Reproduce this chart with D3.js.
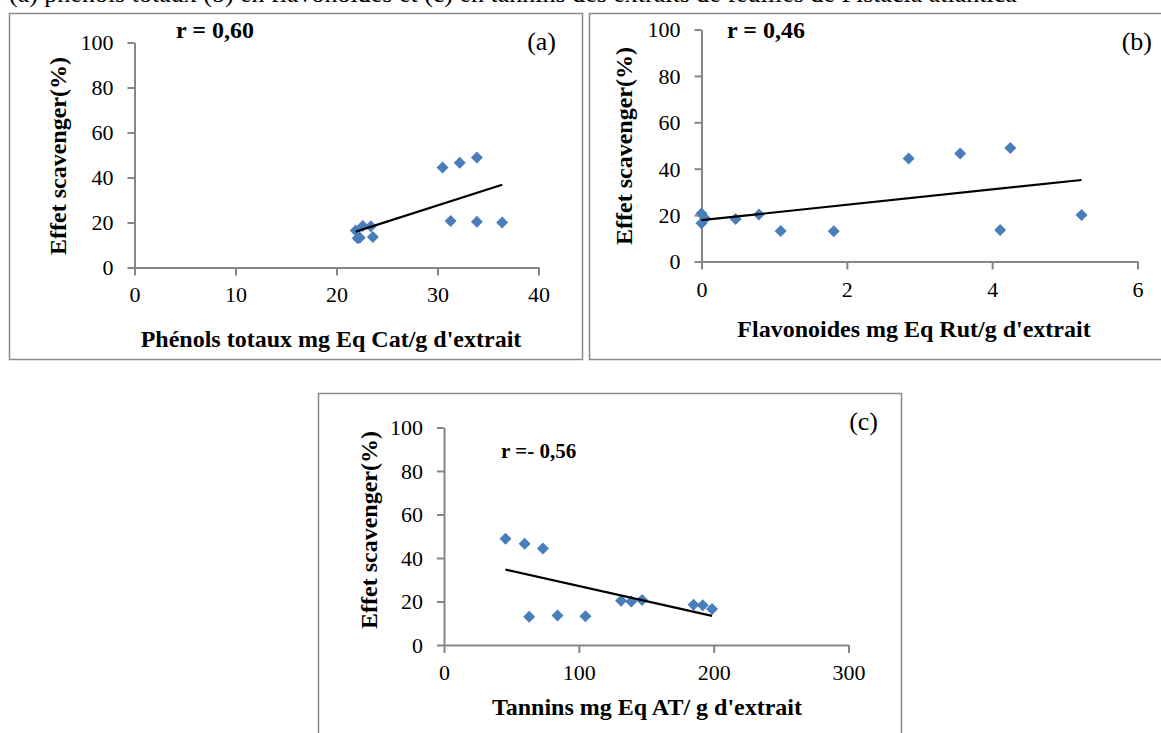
<!DOCTYPE html>
<html>
<head>
<meta charset="utf-8">
<script src="https://cdn.jsdelivr.net/npm/d3@7/dist/d3.min.js"></script>
<style>
  html, body { margin: 0; padding: 0; background: #fff; }
  svg { display: block; }
  text { font-family: "Liberation Serif", "Times New Roman", "DejaVu Serif", serif; fill: #000; }
</style>
</head>
<body>
<svg id="chart" width="1161" height="733"></svg>
<script>
// ---------------- DATA ----------------
const caption = "(a) phénols totaux (b) en flavonoïdes et (c) en tannins des extraits de feuilles de Pistacia atlantica";
const yTitle = "Effet scavenger(%)";
// shared y values (Effet scavenger %) for the 12 extracts
const scavenger = [48.9, 46.6, 44.4, 20.7, 20.3, 20.0, 18.5, 18.3, 16.5, 13.0, 13.6, 13.2];
// panel (a): phénols totaux
const phenols = [33.9, 32.2, 30.5, 31.3, 33.9, 36.4, 22.6, 23.4, 21.9, 22.1, 23.6, 22.3];
// panel (b): flavonoïdes
const flavonoides = [4.25, 3.56, 2.85, 0.00, 0.79, 5.23, 0.05, 0.47, 0.00, 1.82, 4.11, 1.09];
// panel (c): tannins
const tannins = [45.6, 59.8, 73.4, 146.9, 131.3, 138.9, 185.1, 191.9, 198.8, 63.2, 84.2, 104.9];

const yTicks = [0, 20, 40, 60, 80, 100];
const xTicksA = [0, 10, 20, 30, 40];
const xTicksB = [0, 2, 4, 6];
const xTicksC = [0, 100, 200, 300];

const panelLabels = ["(a)", "(b)", "(c)"];
const rLabels = ["r = 0,60", "r = 0,46", "r =- 0,56"];
const xTitles = ["Phénols totaux mg Eq Cat/g d'extrait", "Flavonoides mg Eq Rut/g d'extrait", "Tannins mg Eq AT/ g d'extrait"];

// ---------------- LAYOUT ----------------
const svg = d3.select("#chart");
const AXIS = "#868686", MARK = "#4a7ebb", BORDER = "#8a8a8a";

svg.append("text")
  .attr("x", 9).attr("y", 2)
  .attr("font-size", 26)
  .text(caption);

const panels = [
  { xs: phenols, ticks: xTicksA, dom: [0, 40],
    box: [9, 13, 582, 359], px: [134.5, 538.5], py: [267.5, 42.5],
    r: [176, 38], rfs: 24, lab: [556, 50], yt: [58, 156], xt: [331, 347], tickY: 302 },
  { xs: flavonoides, ticks: xTicksB, dom: [0, 6],
    box: [589, 13, 1175, 359], px: [701.5, 1137.5], py: [261.5, 29.5],
    r: [727, 38], rfs: 24, lab: [1152, 50], yt: [624, 146], xt: [914, 337], tickY: 297 },
  { xs: tannins, ticks: xTicksC, dom: [0, 300],
    box: [318, 393, 901, 745], px: [444, 848.5], py: [645, 427.5],
    r: [501, 458], rfs: 21, lab: [878, 430], yt: [369, 530], xt: [647, 715], tickY: 680 }
];

panels.forEach((p, i) => {
  const g = svg.append("g");
  const [bx0, by0, bx1, by1] = p.box;
  g.append("rect")
    .attr("x", bx0 + 0.5).attr("y", by0 + 0.5)
    .attr("width", bx1 - bx0).attr("height", by1 - by0)
    .attr("fill", "#fff").attr("stroke", BORDER).attr("stroke-width", 1.5);

  const x = d3.scaleLinear().domain(p.dom).range(p.px);
  const y = d3.scaleLinear().domain([0, 100]).range(p.py);

  // y axis
  const ya = g.append("g").attr("transform", `translate(${p.px[0]},0)`)
    .call(d3.axisLeft(y).tickValues(yTicks).tickFormat(d3.format("d"))
      .tickSize(7).tickPadding(14).tickSizeOuter(0));
  // x axis
  const xa = g.append("g").attr("transform", `translate(0,${p.py[0]})`)
    .call(d3.axisBottom(x).tickValues(p.ticks).tickFormat(d3.format("d"))
      .tickSize(8).tickPadding(12).tickSizeOuter(0));
  [ya, xa].forEach(a => {
    a.select(".domain").attr("stroke", AXIS).attr("stroke-width", 2);
    a.selectAll(".tick line").attr("stroke", AXIS).attr("stroke-width", 2);
    a.selectAll(".tick text").attr("font-size", 22).attr("fill", "#000")
      .style("font-family", '"Liberation Serif", "Times New Roman", serif');
  });
  ya.selectAll(".tick text").attr("dy", "0.34em");
  xa.selectAll(".tick text").attr("dy", null).attr("y", null)
    .attr("transform", `translate(0,${p.tickY - p.py[0]})`);

  // points
  const pts = p.xs.map((xv, k) => ({ x: xv, y: scavenger[k] }));
  const rr = 6;
  g.append("g").selectAll("path").data(pts).join("path")
    .attr("d", `M0,${-rr}L${rr},0L0,${rr}L${-rr},0Z`)
    .attr("transform", d => `translate(${x(d.x)},${y(d.y)})`)
    .attr("fill", MARK);

  // linear trend line (least squares)
  const mx = d3.mean(pts, d => d.x), my = d3.mean(pts, d => d.y);
  const sxy = d3.sum(pts, d => (d.x - mx) * (d.y - my));
  const sxx = d3.sum(pts, d => (d.x - mx) ** 2);
  const slope = sxy / sxx, icpt = my - slope * mx;
  const ext = d3.extent(pts, d => d.x);
  g.append("path")
    .datum(ext.map(v => ({ x: v, y: icpt + slope * v })))
    .attr("d", d3.line().x(d => x(d.x)).y(d => y(d.y)))
    .attr("stroke", "#000").attr("stroke-width", 2.2).attr("fill", "none");

  // r label
  g.append("text").attr("x", p.r[0]).attr("y", p.r[1])
    .attr("font-size", p.rfs).attr("font-weight", "bold").text(rLabels[i]);
  // panel label
  g.append("text").attr("x", p.lab[0]).attr("y", p.lab[1])
    .attr("text-anchor", "end").attr("font-size", 26).text(panelLabels[i]);
  // y title
  g.append("text")
    .attr("transform", `translate(${p.yt[0]},${p.yt[1]}) rotate(-90)`)
    .attr("text-anchor", "middle").attr("dy", "0.35em")
    .attr("font-size", 24).attr("font-weight", "bold").text(yTitle);
  // x title
  g.append("text").attr("x", p.xt[0]).attr("y", p.xt[1])
    .attr("text-anchor", "middle")
    .attr("font-size", 24).attr("font-weight", "bold").text(xTitles[i]);
});
</script>
</body>
</html>
